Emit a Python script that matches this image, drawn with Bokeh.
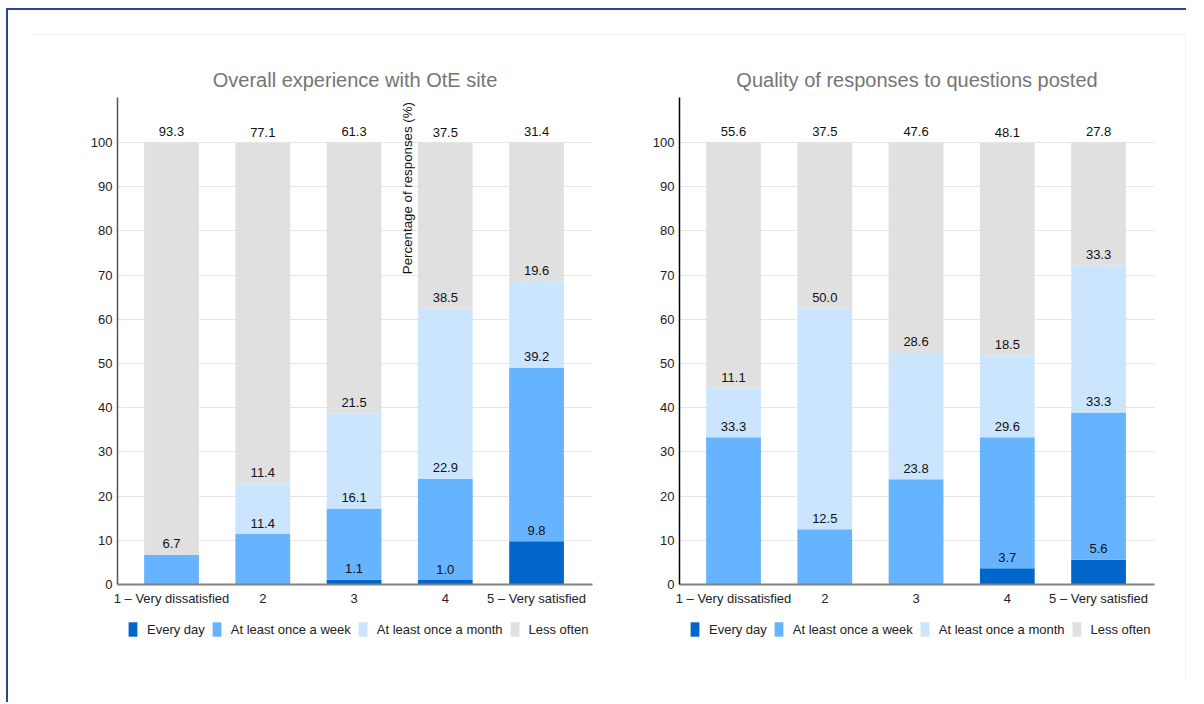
import math
from bokeh.plotting import figure
from bokeh.layouts import row, column
from bokeh.models import ColumnDataSource, FixedTicker, Legend, LegendItem, Grid
from bokeh.core.properties import value
from bokeh.embed import file_html
from bokeh.resources import INLINE

FONT = "Liberation Sans"

categories = ["1 – Very dissatisfied", "2", "3", "4", "5 – Very satisfied"]
series = ["Every day", "At least once a week", "At least once a month", "Less often"]
colors = ["#0066cc", "#66b3ff", "#cce5ff", "#e0e0e0"]

title_left = "Overall experience with OtE site"
every_day_left = [0.0, 0.0, 1.1, 1.0, 9.8]
weekly_left = [6.7, 11.4, 16.1, 22.9, 39.2]
monthly_left = [0.0, 11.4, 21.5, 38.5, 19.6]
less_left = [93.3, 77.1, 61.3, 37.5, 31.4]

title_right = "Quality of responses to questions posted"
every_day_right = [0.0, 0.0, 0.0, 3.7, 5.6]
weekly_right = [33.3, 12.5, 23.8, 29.6, 33.3]
monthly_right = [11.1, 50.0, 28.6, 18.5, 33.3]
less_right = [55.6, 37.5, 47.6, 48.1, 27.8]

y_ticks = list(range(0, 101, 10))
y_axis_title = "Percentage of responses (%)"


def make_chart(title, data, width, left, right, axis_color, y_title=False):
    top, bottom, frame_h = 62, 30, 487
    p = figure(width=width, height=top + frame_h + bottom,
               x_range=(0.408, 5.613), y_range=(0, 110.2),
               output_backend="svg", toolbar_location=None,
               min_border_left=left, min_border_right=right,
               min_border_top=top, min_border_bottom=bottom,
               title=title)
    p.frame_width = 475
    p.frame_height = frame_h
    p.outline_line_color = None
    p.title.text_font = FONT
    p.title.text_font_size = "20px"
    p.title.text_font_style = "normal"
    p.title.text_color = "#757575"
    p.title.align = "center"
    p.title.standoff = 13

    xs = list(range(1, len(categories) + 1))
    bottoms = [0.0] * len(xs)
    lx, ly, lt = [], [], []
    for name, vals, col in zip(series, data, colors):
        tops = [b + v for b, v in zip(bottoms, vals)]
        src = ColumnDataSource(dict(x=xs, bottom=bottoms, top=tops))
        p.vbar(x="x", bottom="bottom", top="top", width=0.6, source=src,
               fill_color=col, line_color=None)
        for x, t, v in zip(xs, tops, vals):
            if v > 0:
                lx.append(x)
                ly.append(t)
                lt.append("%.1f" % v)
        bottoms = tops

    p.text(x=lx, y=ly, text=lt, text_font=value(FONT), text_font_size="13px",
           text_color="#111111", text_align="center", text_baseline="middle",
           y_offset=-11)

    if y_title:
        p.text(x=[3.586], y=[89.7], text=[y_axis_title], angle=math.pi / 2,
               text_font=value(FONT), text_font_size="13.3px", text_color="#111111",
               text_align="center", text_baseline="middle")

    p.xgrid.grid_line_color = None
    p.ygrid.grid_line_color = "#e6e6e6"
    p.ygrid.ticker = FixedTicker(ticks=y_ticks)

    p.yaxis.ticker = FixedTicker(ticks=y_ticks)
    p.yaxis.axis_line_color = axis_color
    p.yaxis.axis_line_width = 1.5
    p.yaxis.major_tick_line_color = None
    p.yaxis.minor_tick_line_color = None
    p.yaxis.major_tick_out = 0
    p.yaxis.minor_tick_out = 0
    p.yaxis.major_label_text_font = FONT
    p.yaxis.major_label_text_font_size = "13px"
    p.yaxis.major_label_text_color = "#222222"
    p.yaxis.major_label_standoff = 5

    p.xaxis.ticker = FixedTicker(ticks=xs)
    p.xaxis.major_label_overrides = {x: c for x, c in zip(xs, categories)}
    p.xaxis.axis_line_color = "#808080"
    p.xaxis.axis_line_width = 2
    p.xaxis.major_tick_line_color = None
    p.xaxis.minor_tick_line_color = None
    p.xaxis.major_tick_out = 0
    p.xaxis.minor_tick_out = 0
    p.xaxis.major_label_text_font = FONT
    p.xaxis.major_label_text_font_size = "13px"
    p.xaxis.major_label_text_color = "#222222"
    p.xaxis.major_label_standoff = 6
    return p


def make_legend(width, x_loc):
    # legend-only strip; its frame lines up with the chart frame above it
    q = figure(width=width, height=68, x_range=(0, 1), y_range=(0, 1),
               output_backend="svg", toolbar_location=None,
               x_axis_location=None, y_axis_location=None, min_border=0)
    q.outline_line_color = None
    for g in q.select(type=Grid):
        g.grid_line_color = None
        g.visible = False
    q.background_fill_color = "white"
    q.border_fill_color = "white"
    items = []
    for name, col in zip(series, colors):
        # zero-area proxy glyph, used only for the legend swatch
        r = q.vbar(x=[0.5], bottom=[0], top=[0], width=0, fill_color=col, line_color=None)
        items.append(LegendItem(label=name, renderers=[r]))
    legend = Legend(items=items, orientation="horizontal", location=(x_loc, 44),
                    glyph_width=11, glyph_height=18, label_standoff=9, spacing=6,
                    padding=4, margin=0, border_line_color=None,
                    background_fill_alpha=0,
                    label_text_font=FONT, label_text_font_size="13px",
                    label_text_color="#222222")
    q.add_layout(legend, "center")
    return q


p1 = make_chart(title_left, [every_day_left, weekly_left, monthly_left, less_left],
                596, 84, 37, "#555555", y_title=True)
p2 = make_chart(title_right, [every_day_right, weekly_right, monthly_right, less_right],
                556, 50, 31, "#000000")
l1 = make_legend(596, 10)
l2 = make_legend(556, 10)

inner = row(column(p1, l1), column(p2, l2), margin=(24, 0, 20, 25),
            styles={"border-top": "1px solid #eef2f2", "border-right": "1px solid #eef2f2"})
outer = column(inner, margin=(8, 0, 0, 6),
               styles={"border-top": "2px solid #23498f",
                       "border-left": "2px solid #23498f"})

open("out.html", "w").write(file_html(outer, INLINE))
